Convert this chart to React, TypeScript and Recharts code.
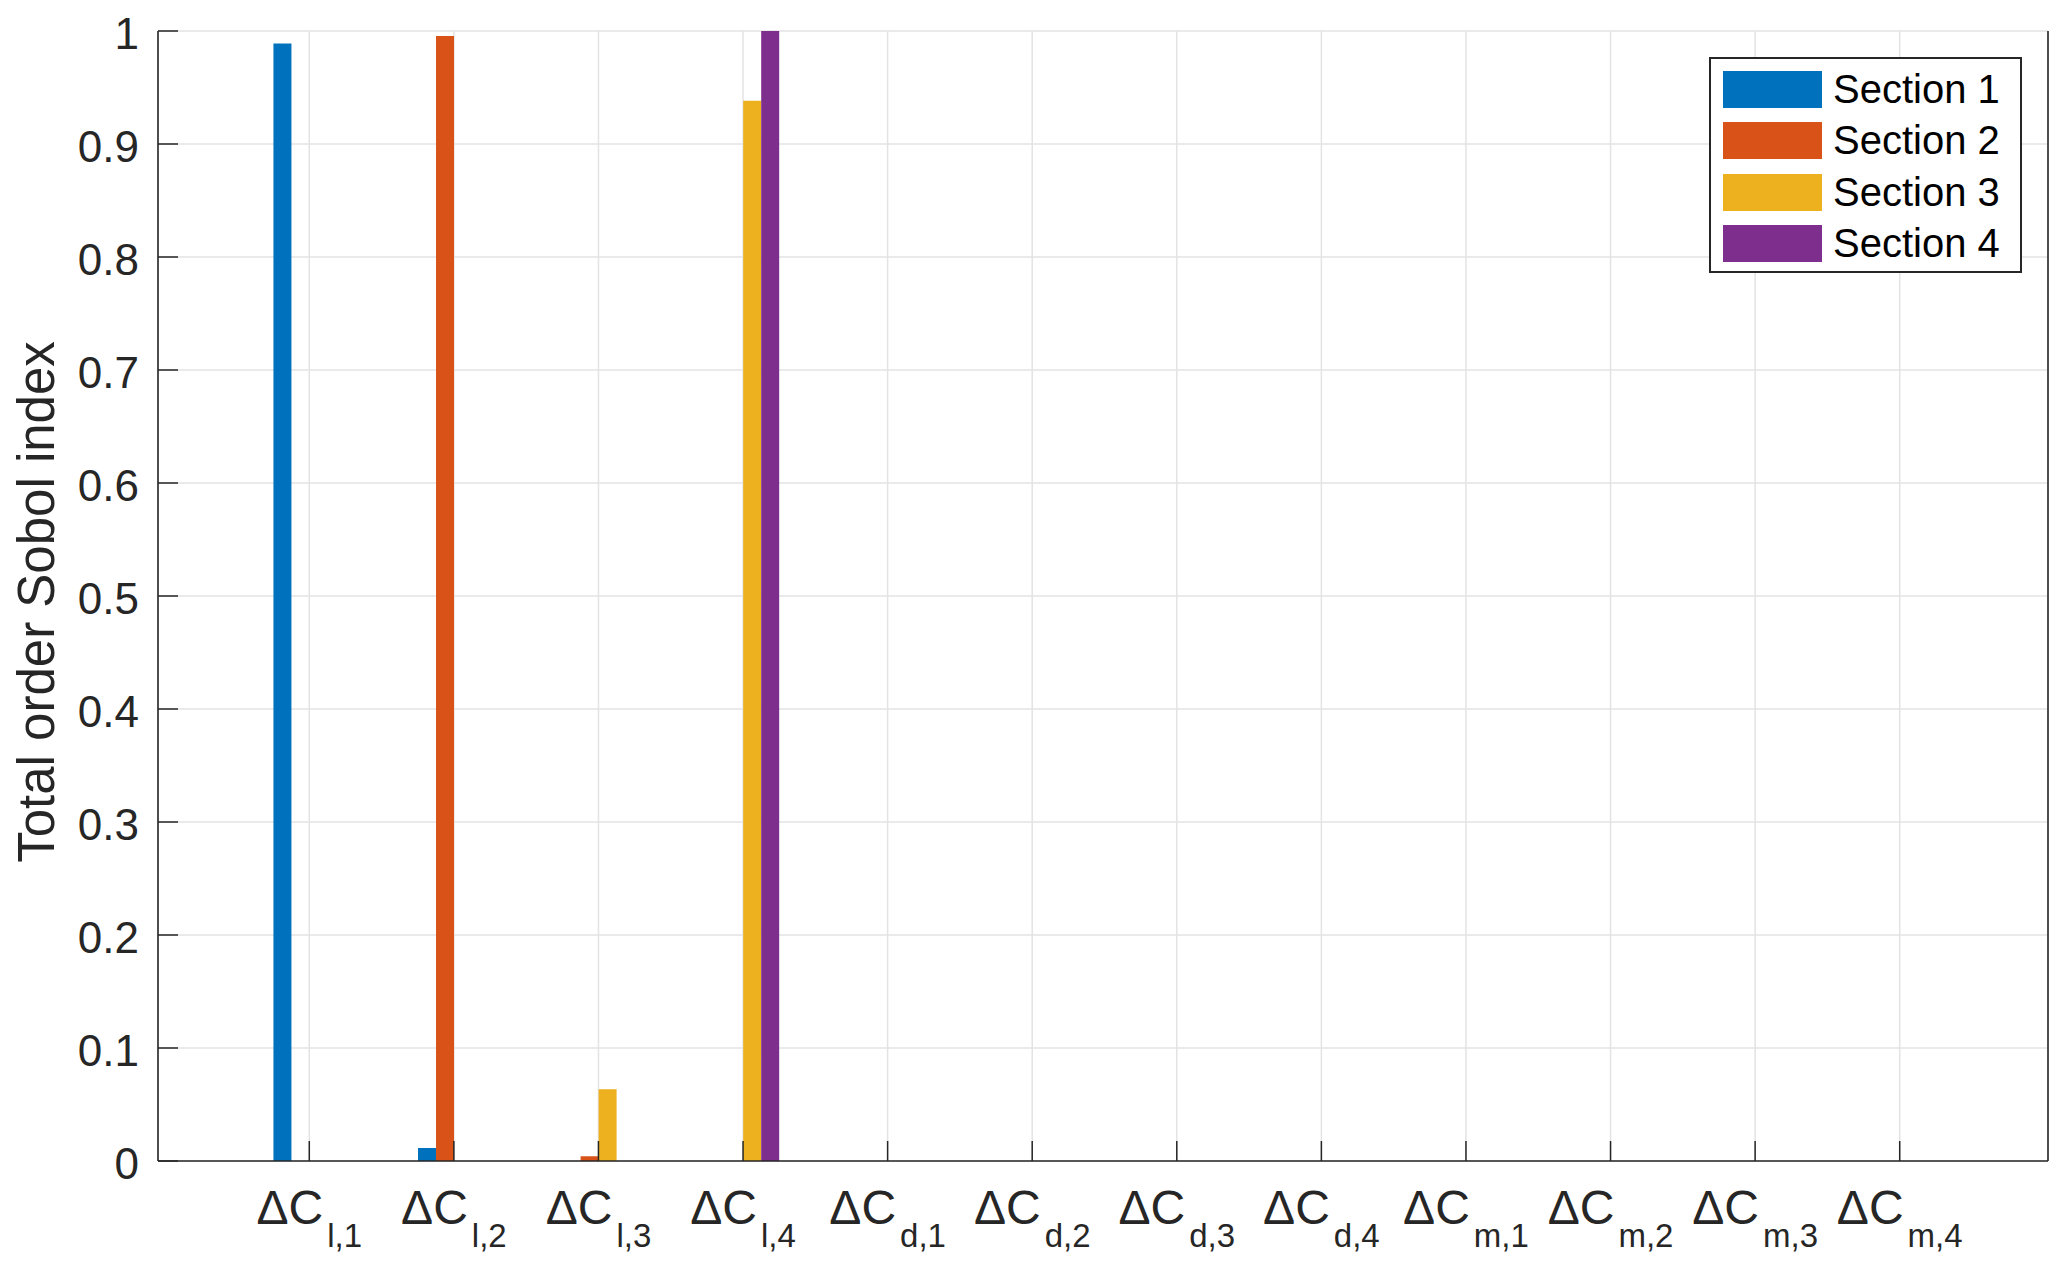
import React from 'react';
import { BarChart, Bar, XAxis, YAxis, CartesianGrid, Legend } from 'recharts';

const categories = ['l,1', 'l,2', 'l,3', 'l,4', 'd,1', 'd,2', 'd,3', 'd,4', 'm,1', 'm,2', 'm,3', 'm,4'];
const section1 = [0.989, 0.0115, 0, 0, 0, 0, 0, 0, 0, 0, 0, 0];
const section2 = [0, 0.9956, 0.0042, 0, 0, 0, 0, 0, 0, 0, 0, 0];
const section3 = [0, 0, 0.0634, 0.9383, 0, 0, 0, 0, 0, 0, 0, 0];
const section4 = [0, 0, 0, 1.0, 0, 0, 0, 0, 0, 0, 0, 0];
const seriesNames = ['Section 1', 'Section 2', 'Section 3', 'Section 4'];
const colors = ['#0072BD', '#D95319', '#EDB120', '#7E2F8E'];
const yTicks = [0, 0.1, 0.2, 0.3, 0.4, 0.5, 0.6, 0.7, 0.8, 0.9, 1];
const yTickLabels = ['0', '0.1', '0.2', '0.3', '0.4', '0.5', '0.6', '0.7', '0.8', '0.9', '1'];

const data = categories.map((name, i) => ({
  name,
  s1: section1[i],
  s2: section2[i],
  s3: section3[i],
  s4: section4[i],
}));

const FONT = '"Liberation Sans", Arial, Helvetica, sans-serif';
const AXIS = '#262626';
const TICK_LEN = 20;

const BottomTick = (props: any) => {
  const { x, y, payload } = props;
  return (
    <g>
      <line x1={x} y1={y} x2={x} y2={y - TICK_LEN} stroke={AXIS} strokeWidth={1.5} />
      <text x={x} y={y + 63} textAnchor="middle" fill={AXIS} fontFamily={FONT} fontSize={48}>
        {'\u0394C'}
        <tspan dx={4} dy={23} fontSize={33}>{payload.value}</tspan>
      </text>
    </g>
  );
};

const TopTick = (props: any) => {
  const { x, y } = props;
  return <line x1={x} y1={y} x2={x} y2={y + TICK_LEN} stroke={AXIS} strokeWidth={1.5} />;
};

const LeftTick = (props: any) => {
  const { x, y, payload } = props;
  const idx = yTicks.indexOf(payload.value);
  return (
    <g>
      <line x1={x} y1={y} x2={x + TICK_LEN} y2={y} stroke={AXIS} strokeWidth={1.5} />
      <text x={x - 19} y={y} dy="0.42em" textAnchor="end" fill={AXIS} fontFamily={FONT} fontSize={44}>
        {idx >= 0 ? yTickLabels[idx] : payload.value}
      </text>
    </g>
  );
};

const RightTick = (props: any) => {
  const { x, y } = props;
  return <line x1={x} y1={y} x2={x - TICK_LEN} y2={y} stroke={AXIS} strokeWidth={1.5} />;
};

const YLabel = () => (
  <text
    x={46}
    y={594}
    transform="rotate(-90, 46, 594)"
    textAnchor="middle"
    fill={AXIS}
    fontFamily={FONT}
    fontSize={51}
  >
    Total order Sobol index
  </text>
);

const LegendBox = (props: any) => {
  const items = props.payload || [];
  return (
    <div
      style={{
        boxSizing: 'border-box',
        width: 313,
        height: 216,
        border: `2px solid ${AXIS}`,
        background: '#fff',
        paddingTop: 12,
        paddingLeft: 12,
        fontFamily: FONT,
      }}
    >
      {items.map((it: any, i: number) => (
        <div key={i} style={{ display: 'flex', alignItems: 'center', height: 37, marginBottom: 14.3 }}>
          <div style={{ width: 99, height: 37, background: it.color }} />
          <span style={{ marginLeft: 11, fontSize: 40, color: '#000', lineHeight: '37px' }}>{it.value}</span>
        </div>
      ))}
    </div>
  );
};

const SobolChart: React.FC = () => {
  return (
    <BarChart
      width={2051}
      height={1255}
      data={data}
      margin={{ top: 23, right: 0, bottom: 0, left: 0 }}
      barGap={0}
      barCategoryGap="25.2%"
    >
      <CartesianGrid stroke="#e3e3e3" strokeWidth={1.5} />
      <XAxis
        dataKey="name"
        height={102}
        padding={{ left: 79, right: 76 }}
        axisLine={{ stroke: AXIS, strokeWidth: 1.6 }}
        tickLine={false}
        tickSize={0}
        tickMargin={0}
        interval={0}
        tick={<BottomTick />}
      />
      <XAxis
        xAxisId="top"
        orientation="top"
        dataKey="name"
        height={0}
        padding={{ left: 79, right: 76 }}
        axisLine={{ stroke: AXIS, strokeWidth: 1.6 }}
        tickLine={false}
        tickSize={0}
        tickMargin={0}
        interval={0}
        tick={<TopTick />}
      />
      <YAxis
        width={150}
        domain={[0, 1]}
        ticks={yTicks}
        type="number"
        axisLine={{ stroke: AXIS, strokeWidth: 1.6 }}
        tickLine={false}
        tickSize={0}
        tickMargin={0}
        interval={0}
        tick={<LeftTick />}
        label={<YLabel />}
      />
      <YAxis
        yAxisId="right"
        orientation="right"
        width={11}
        domain={[0, 1]}
        ticks={yTicks}
        type="number"
        axisLine={{ stroke: AXIS, strokeWidth: 1.6 }}
        tickLine={false}
        tickSize={0}
        tickMargin={0}
        interval={0}
        tick={<RightTick />}
      />
      <Legend
        layout="horizontal"
        verticalAlign="middle"
        align="center"
        wrapperStyle={{ top: 49, left: 1701, width: 313, height: 216 }}
        content={<LegendBox />}
      />
      <Bar dataKey="s1" name={seriesNames[0]} fill={colors[0]} isAnimationActive={false} />
      <Bar dataKey="s2" name={seriesNames[1]} fill={colors[1]} isAnimationActive={false} />
      <Bar dataKey="s3" name={seriesNames[2]} fill={colors[2]} isAnimationActive={false} />
      <Bar dataKey="s4" name={seriesNames[3]} fill={colors[3]} isAnimationActive={false} />
    </BarChart>
  );
};

export default function App() {
  return <SobolChart />;
}
